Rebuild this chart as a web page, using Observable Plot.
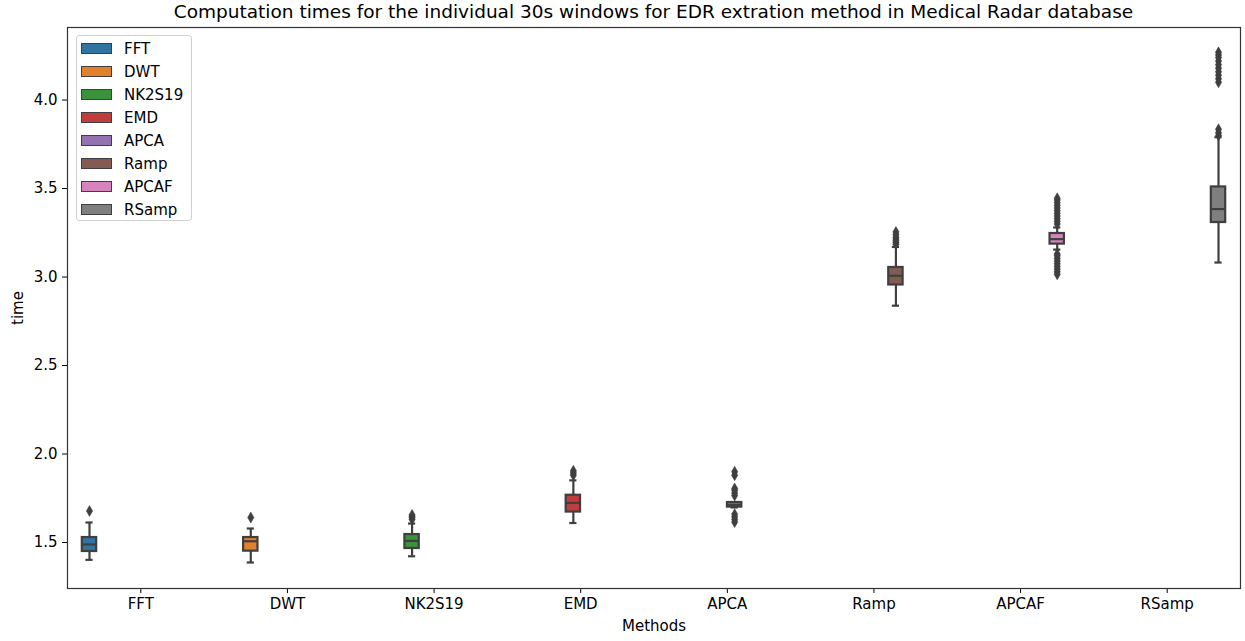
<!DOCTYPE html>
<html><head><meta charset="utf-8">
<script src="https://cdn.jsdelivr.net/npm/d3@7"></script>
<script src="https://cdn.jsdelivr.net/npm/@observablehq/plot@0.6"></script>
<style>
body{margin:0;background:#fff;font-family:"DejaVu Sans",sans-serif;}
#wrap{position:relative;width:1245px;height:641px;}
#title{height:24px;line-height:24px;font-size:18.5px;color:#000;text-align:center;padding-left:67px;padding-right:5px;box-sizing:border-box;width:1245px;white-space:nowrap}
#legend{position:absolute;left:76px;top:35px;width:116px;height:186px;border:1px solid #d0d0d0;border-radius:3px;box-sizing:border-box;background:rgba(255,255,255,0.8);padding-top:1px;}
.row{height:23px;display:flex;align-items:center;}
.sw{width:31px;height:11px;border:1px solid #3f3f3f;box-sizing:border-box;margin-left:4px;margin-right:12px}
.lab{font-size:15px;color:#000}
svg{display:block}
</style></head>
<body><div id="wrap"><div id="title">Computation times for the individual 30s windows for EDR extration method in Medical Radar database</div><div id="chart"></div><div id="legend"></div></div>
<script>
const methods = ["FFT","DWT","NK2S19","EMD","APCA","Ramp","APCAF","RSamp"];
const colors = ["#3274a1","#e1812c","#3a923a","#c03d3e","#9372b2","#845b53","#d684bd","#7f7f7f"];
const whiskerLow  = [1.402, 1.387, 1.422, 1.610, 1.698, 2.838, 3.155, 3.082];
const q1          = [1.449, 1.451, 1.466, 1.672, 1.700, 2.955, 3.186, 3.308];
const median      = [1.489, 1.507, 1.509, 1.724, 1.713, 3.007, 3.214, 3.384];
const q3          = [1.528, 1.528, 1.545, 1.767, 1.726, 3.054, 3.246, 3.509];
const whiskerHigh = [1.613, 1.579, 1.607, 1.851, 1.728, 3.170, 3.280, 3.790];
const outliers = [
  [1.678],
  [1.641],
  [1.630, 1.640, 1.648, 1.656],
  [1.880, 1.893, 1.905],
  [1.615, 1.630, 1.645, 1.660, 1.765, 1.780, 1.795, 1.805, 1.880, 1.900],
  [3.185, 3.195, 3.205, 3.215, 3.225, 3.240, 3.255],
  [3.015, 3.030, 3.045, 3.060, 3.075, 3.090, 3.105, 3.120, 3.130,
   3.300, 3.315, 3.330, 3.345, 3.360, 3.375, 3.390, 3.405, 3.420, 3.435, 3.445],
  [3.800, 3.815, 3.835, 4.100, 4.120, 4.140, 4.160, 4.180, 4.200, 4.220, 4.240, 4.255, 4.270]
];
const yTicks = [1.5, 2.0, 2.5, 3.0, 3.5, 4.0];

const nHue = methods.length;
const slot = 0.8 / nHue;
const boxW = slot * 0.98;
const line = "#3f3f3f";

const boxes = methods.map((m, i) => ({
  m, color: colors[i],
  x: i + (i - (nHue - 1) / 2) * slot,
  wl: whiskerLow[i], q1: q1[i], med: median[i], q3: q3[i], wh: whiskerHigh[i]
}));
const fliers = boxes.flatMap((b, i) => outliers[i].map(v => ({x: b.x, v})));

const chart = Plot.plot({
  width: 1245, height: 617,
  marginLeft: 67, marginRight: 5, marginTop: 3, marginBottom: 53,
  style: {fontSize: "15px", fontFamily: "DejaVu Sans, sans-serif", color: "#000", background: "#fff"},
  x: {type: "linear", domain: [-0.5, nHue - 0.5]},
  y: {domain: [1.24, 4.41]},
  marks: [
    Plot.ruleX(boxes, {x: "x", y1: "wl", y2: "q1", stroke: line, strokeWidth: 2.2}),
    Plot.ruleX(boxes, {x: "x", y1: "q3", y2: "wh", stroke: line, strokeWidth: 2.2}),
    Plot.ruleY(boxes, {y: "wl", x1: d => d.x - boxW / 4, x2: d => d.x + boxW / 4, stroke: line, strokeWidth: 2.2}),
    Plot.ruleY(boxes, {y: "wh", x1: d => d.x - boxW / 4, x2: d => d.x + boxW / 4, stroke: line, strokeWidth: 2.2}),
    Plot.rect(boxes, {x1: d => d.x - boxW / 2, x2: d => d.x + boxW / 2, y1: "q1", y2: "q3", fill: "color", stroke: line, strokeWidth: 2.2}),
    Plot.ruleY(boxes, {y: "med", x1: d => d.x - boxW / 2, x2: d => d.x + boxW / 2, stroke: line, strokeWidth: 2.2}),
    Plot.dot(fliers, {x: "x", y: "v", symbol: "diamond", r: 3.3, fill: line, stroke: line, strokeWidth: 0.5}),
    Plot.axisY({ticks: yTicks, tickFormat: d3.format(".1f"), tickSize: 5, tickPadding: 5, fontSize: 15, label: "time", labelAnchor: "center", labelArrow: "none", labelOffset: 55}),
    Plot.axisX({ticks: d3.range(nHue), tickFormat: i => methods[i], tickSize: 5, tickPadding: 5, fontSize: 15, label: "Methods", labelAnchor: "center", labelArrow: "none", labelOffset: 42}),
    Plot.frame({stroke: "#333", strokeWidth: 1.2})
  ]
});
document.getElementById("chart").appendChild(chart);

const lg = document.getElementById("legend");
methods.forEach((m, i) => {
  const r = document.createElement("div"); r.className = "row";
  const s = document.createElement("div"); s.className = "sw"; s.style.background = colors[i];
  const t = document.createElement("span"); t.className = "lab"; t.textContent = m;
  r.appendChild(s); r.appendChild(t); lg.appendChild(r);
});
</script>
</body></html>
